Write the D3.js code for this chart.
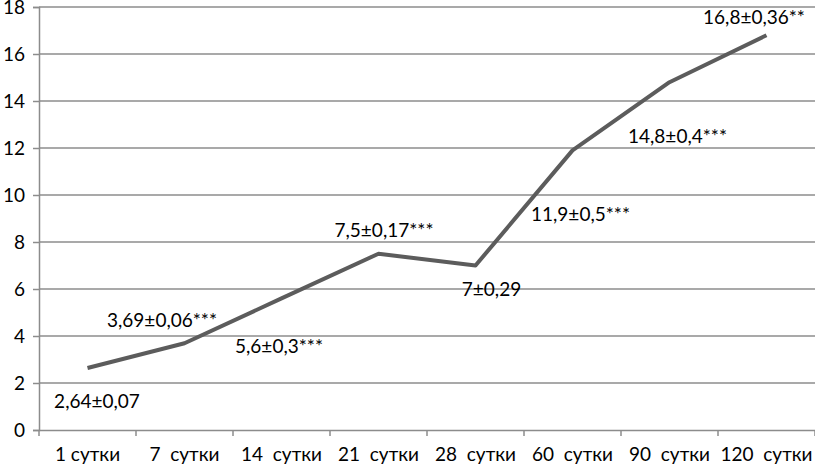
<!DOCTYPE html>
<html><head><meta charset="utf-8">
<script src="https://cdn.jsdelivr.net/npm/d3@7"></script>
<style>
html,body{margin:0;padding:0;background:#fff;}
svg text{font-family:"Lato","Open Sans",sans-serif;fill:#000;white-space:pre;}
</style></head>
<body><svg id="c" width="815" height="467"></svg>
<script>
const categories = ["1 сутки","7  сутки","14  сутки","21  сутки","28  сутки","60  сутки","90  сутки","120  сутки"];
const values = [2.64, 3.69, 5.6, 7.5, 7.0, 11.9, 14.8, 16.8];
const labels = ["2,64±0,07","3,69±0,06***","5,6±0,3***","7,5±0,17***","7±0,29","11,9±0,5***","14,8±0,4***","16,8±0,36**"];
const yTicks = [0,2,4,6,8,10,12,14,16,18];
// label placement (layout only): offset of label centre from its point
const labelDx = [9.5, -22.5, -2.5, 5.5, 16, 8, 8, -12.5];
const labelDy = [33, -24, 47, -24, 23, 63, 53, -19];

const svg = d3.select("#c");
const m = {left:39, right:0, top:7, bottom:37};
const W = 815, H = 467;
const x = d3.scaleBand().domain(categories).range([m.left, W - m.right]);
const y = d3.scaleLinear().domain([0,18]).range([H - m.bottom, m.top]);
const FS = 19;

// gridlines
svg.append("g").selectAll("line").data(yTicks.filter(d=>d>0)).join("line")
  .attr("x1", m.left).attr("x2", W).attr("y1", d=>y(d)).attr("y2", d=>y(d))
  .attr("stroke","#8c8c8c").attr("stroke-width",1.5);

// y axis
const ya = svg.append("g").attr("transform",`translate(${m.left},0)`)
  .call(d3.axisLeft(y).tickValues(yTicks).tickSize(6).tickPadding(8).tickFormat(d3.format("d")));
ya.select(".domain").attr("stroke","#8c8c8c").attr("stroke-width",1.5);
ya.selectAll(".tick line").attr("stroke","#8c8c8c").attr("stroke-width",1.5);
ya.selectAll(".tick text").attr("font-size",FS).style("font-family","Lato").attr("fill","#000");

// x axis
const xa = svg.append("g").attr("transform",`translate(0,${y(0)})`)
  .call(d3.axisBottom(x).tickSize(0).tickPadding(18));
xa.select(".domain").attr("stroke","#8c8c8c").attr("stroke-width",1.5);
xa.selectAll(".tick text").attr("font-size",FS).style("font-family","Lato").attr("fill","#000");
// category boundary ticks
const bounds = categories.map(c => x(c)).concat([x(categories[categories.length-1]) + x.bandwidth()]);
svg.append("g").selectAll("line").data(bounds).join("line")
  .attr("x1", d=>d).attr("x2", d=>d).attr("y1", y(0)).attr("y2", y(0)+6)
  .attr("stroke","#8c8c8c").attr("stroke-width",1.5);

// line
const line = d3.line().x((d,i)=>x(categories[i]) + x.bandwidth()/2).y(d=>y(d));
svg.append("path").datum(values).attr("d", line)
  .attr("fill","none").attr("stroke","#5c5c5c").attr("stroke-width",4).attr("stroke-linejoin","round");

// data labels
svg.append("g").selectAll("text").data(values).join("text")
  .attr("x", (d,i)=>x(categories[i]) + x.bandwidth()/2 + labelDx[i])
  .attr("y", (d,i)=>y(d) + labelDy[i])
  .attr("text-anchor","middle").attr("dominant-baseline","central")
  .attr("font-size",FS)
  .text((d,i)=>labels[i]);
</script></body></html>
